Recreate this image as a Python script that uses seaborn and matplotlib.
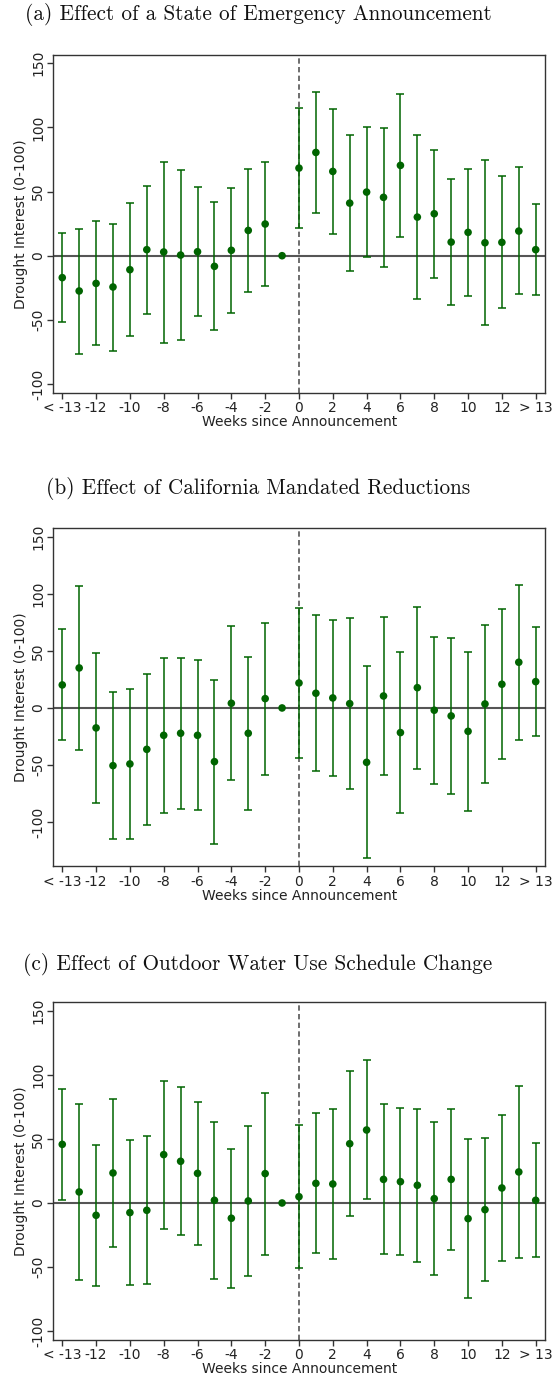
import matplotlib
matplotlib.use("Agg")
import numpy as np
import pandas as pd
import matplotlib.pyplot as plt
import seaborn as sns

# ---------------- data ----------------
weeks = [-14, -13, -12, -11, -10, -9, -8, -7, -6, -5, -4, -3, -2, -1,
         0, 1, 2, 3, 4, 5, 6, 7, 8, 9, 10, 11, 12, 13, 14]
tick_pos = [-14, -12, -10, -8, -6, -4, -2, 0, 2, 4, 6, 8, 10, 12, 14]
tick_labels = ["< -13", "-12", "-10", "-8", "-6", "-4", "-2", "0",
               "2", "4", "6", "8", "10", "12", "> 13"]
ytick_vals = [-100, -50, 0, 50, 100, 150]

titles = ["(a) Effect of a State of Emergency Announcement",
          "(b) Effect of California Mandated Reductions",
          "(c) Effect of Outdoor Water Use Schedule Change"]

# (a) State of emergency
est_a = [-17.1, -27.5, -21.6, -24.4, -10.9, 4.7, 2.9, 0.5, 3.1, -8.3, 4.2, 19.7, 24.7, 0.0,
         68.3, 80.5, 65.7, 41.0, 49.6, 45.5, 70.4, 30.1, 32.7, 10.6, 18.2, 10.1, 10.4, 19.2, 4.7]
hi_a = [17.7, 21.0, 27.3, 24.9, 41.0, 54.3, 73.2, 67.0, 53.5, 41.6, 53.0, 67.8, 73.0, np.nan,
        115.3, 127.5, 114.5, 94.0, 100.5, 99.7, 126.2, 94.3, 82.6, 60.0, 67.8, 74.3, 62.0, 68.8, 40.0]
lo_a = [-51.9, -76.6, -69.9, -74.0, -62.6, -45.2, -68.0, -65.7, -47.0, -57.9, -44.7, -28.0, -23.9, np.nan,
        21.3, 33.5, 16.9, -11.7, -1.3, -8.8, 14.8, -34.0, -17.1, -38.4, -31.4, -54.0, -41.0, -30.1, -30.6]

# (b) California mandated reductions
est_b = [20.2, 35.1, -17.5, -50.6, -49.1, -36.3, -24.0, -22.2, -24.0, -47.1, 4.1, -22.2, 8.2, 0.0,
         21.9, 12.9, 8.8, 3.8, -47.7, 10.5, -21.6, 17.8, -2.0, -7.0, -20.5, 3.5, 20.8, 40.1, 23.1]
hi_b = [69.0, 107.0, 48.2, 14.3, 16.7, 29.8, 44.2, 43.9, 41.8, 24.6, 71.9, 44.7, 74.9, np.nan,
        87.4, 81.6, 77.5, 78.7, 36.5, 79.5, 48.8, 88.9, 62.6, 61.1, 49.4, 73.1, 86.5, 108.2, 71.3]
lo_b = [-27.8, -36.8, -83.6, -115.2, -114.6, -102.6, -92.1, -88.3, -89.8, -119.0, -63.5, -89.2, -58.5, np.nan,
        -43.6, -55.6, -59.4, -70.8, -131.3, -59.1, -92.1, -53.2, -66.7, -75.1, -90.1, -65.5, -44.4, -28.1, -24.9]

# (c) Outdoor water use schedule change
est_c = [45.7, 8.6, -9.6, 23.4, -7.5, -5.7, 37.7, 32.5, 23.1, 2.1, -11.9, 1.6, 22.9, 0.0,
         4.9, 15.3, 14.8, 46.2, 56.9, 18.4, 16.6, 13.8, 3.4, 18.4, -12.2, -5.2, 11.7, 24.2, 2.1]
hi_c = [89.1, 77.4, 45.5, 80.8, 49.4, 52.2, 95.3, 90.4, 79.0, 63.4, 42.3, 60.3, 85.7, np.nan,
        60.8, 69.9, 73.5, 102.9, 111.2, 77.1, 74.3, 73.5, 62.9, 73.5, 49.9, 50.4, 68.6, 90.9, 46.8]
lo_c = [2.3, -60.0, -64.7, -34.0, -64.2, -63.1, -20.0, -24.9, -32.5, -59.5, -66.0, -57.1, -40.3, np.nan,
        -50.4, -39.0, -43.6, -10.1, 2.9, -39.7, -40.8, -46.0, -56.1, -36.4, -74.3, -60.5, -44.9, -42.6, -42.1]

panels = [(est_a, lo_a, hi_a), (est_b, lo_b, hi_b), (est_c, lo_c, hi_c)]

# ---------------- style / layout ----------------
sns.set_style("ticks")
plt.rcParams['font.family'] = ['DejaVu Sans']
plt.rcParams['axes.edgecolor'] = '#333333'
plt.rcParams['xtick.color'] = '#333333'
plt.rcParams['ytick.color'] = '#333333'

W, H = 555, 1378
fig = plt.figure(figsize=(W / 100, H / 100), dpi=100)

# axes boxes in pixels: (left, top, right, bottom)
boxes = [(53.3, 54.7, 545, 392.7), (53.3, 528.3, 545, 866.3), (53.3, 1001.7, 545, 1340)]
ylims = [(-106.8, 156.7), (-138.9, 157.6), (-106.8, 156.9)]
title_y = [15, 489, 964]

green = '#006400'
for i, (est, lo, hi) in enumerate(panels):
    l, t, r, b = boxes[i]
    ax = fig.add_axes([l / W, 1 - b / H, (r - l) / W, (b - t) / H])
    df = pd.DataFrame({"week": weeks, "est": est, "lo": lo, "hi": hi})

    ax.axhline(0, color='#555555', lw=1.5, zorder=1)
    ax.axvline(0, color='#555555', lw=1.2, ls=(0, (3.2, 2.0)), zorder=1)

    eb = df.dropna()
    ax.errorbar(eb["week"], eb["est"],
                yerr=[eb["est"] - eb["lo"], eb["hi"] - eb["est"]],
                fmt='none', ecolor=green, elinewidth=1.1, capsize=2.7, capthick=1.1, zorder=2)
    sns.scatterplot(data=df, x="week", y="est", ax=ax, color=green, s=30,
                    edgecolor='none', linewidth=0, zorder=3, legend=False)

    ax.set_xlim(-14.53, 14.55)
    ax.set_ylim(*ylims[i])
    ax.set_xticks(tick_pos)
    ax.set_xticklabels(tick_labels)
    ax.set_yticks(ytick_vals)
    ax.set_yticklabels([str(v) for v in ytick_vals])
    for lab in ax.get_yticklabels():
        lab.set_rotation(90)
        lab.set_va('center')
        lab.set_ha('right')
    ax.tick_params(axis='both', direction='out', length=4, width=1, labelsize=10, pad=2,
                   labelcolor='#222222')
    for sp in ax.spines.values():
        sp.set_visible(True)
        sp.set_linewidth(1.0)
    ax.set_xlabel("Weeks since Announcement", fontsize=10, labelpad=0, color='#222222')
    ax.set_ylabel("Drought Interest (0-100)", fontsize=10, labelpad=2, color='#222222')

    fig.text(0.465, 1 - title_y[i] / H, titles[i], ha='center', va='center',
             family='cmr10', fontsize=15.3, color='#111111')

fig.savefig("out.png", dpi=100)
